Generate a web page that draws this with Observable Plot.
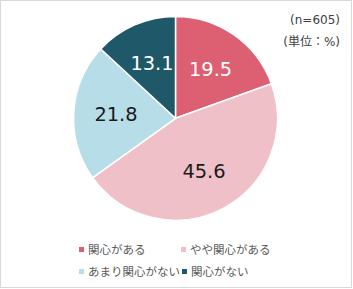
<!DOCTYPE html>
<html><head><meta charset="utf-8">
<script src="https://cdn.jsdelivr.net/npm/d3@7"></script>
<script src="https://cdn.jsdelivr.net/npm/@observablehq/plot@0.6"></script>
<style>
body{margin:0;background:#fff;}
#wrap{position:relative;width:350px;height:286px;border:1px solid #d9d9d9;overflow:hidden;font-family:"DejaVu Sans","Noto Sans CJK JP",sans-serif;}
#chart{position:absolute;left:-1px;top:-1px;}
.note{position:absolute;right:11px;font-size:12px;color:#404040;line-height:14px;white-space:nowrap;}
.leg{position:absolute;font-size:11.5px;color:#595959;display:flex;align-items:center;white-space:nowrap;line-height:16px;font-family:"Noto Sans CJK JP",sans-serif;}
.sw{width:5px;height:5px;margin-right:4px;flex:none;}
</style></head><body>
<div id="wrap"><div id="chart"></div></div>
<script>
const categories = ["関心がある","やや関心がある","あまり関心がない","関心がない"];
const values = [19.5, 45.6, 21.8, 13.1];
const colors = ["#dc5f72","#f0c0c8","#b6dde8","#1f5869"];
const labelColors = ["#ffffff","#1a1a1a","#1a1a1a","#ffffff"];
const noteLines = ["(n=605)","(単位：%)"];

const data = categories.map((c, i) => ({category: c, value: values[i], labelColor: labelColors[i]}));
const color = d3.scaleOrdinal(categories, colors);
const arcs = d3.pie().sort(null).value(d => d.value)(data);
const labelR = 0.59;
const mid = a => (a.startAngle + a.endAngle) / 2;

function pieMark(index, scales) {
  const x0 = scales.x(0), y0 = scales.y(0), R = scales.x(1) - x0;
  const g = d3.create("svg:g").attr("transform", `translate(${x0},${y0})`);
  g.selectAll("path").data(arcs).join("path")
    .attr("d", d3.arc().innerRadius(0).outerRadius(R))
    .attr("fill", d => color(d.data.category))
    .attr("stroke", "#fff")
    .attr("stroke-width", 1.5)
    .attr("stroke-linejoin", "round");
  return g.node();
}

const chart = Plot.plot({
  width: 353,
  height: 289,
  marginLeft: 74,
  marginRight: 74,
  marginTop: 16.5,
  marginBottom: 67.5,
  x: {domain: [-1, 1], axis: null},
  y: {domain: [-1, 1], axis: null},
  style: {background: "transparent", overflow: "visible"},
  marks: [
    pieMark,
    Plot.text(arcs, {
      x: a => labelR * Math.sin(mid(a)),
      y: a => labelR * Math.cos(mid(a)),
      text: a => a.data.value.toFixed(1),
      fill: a => a.data.labelColor,
      fontSize: 19.5,
      fontFamily: "DejaVu Sans, Verdana, sans-serif"
    })
  ]
});
document.getElementById("chart").appendChild(chart);

const wrap = document.getElementById("wrap");
noteLines.forEach((t, i) => {
  const d = document.createElement("div");
  d.className = "note";
  d.textContent = t;
  d.style.top = (12 + i * 22) + "px";
  wrap.appendChild(d);
});
const legPos = [[78, 240], [180, 240], [78, 262], [181, 262]];
categories.forEach((c, i) => {
  const d = document.createElement("div");
  d.className = "leg";
  d.style.left = legPos[i][0] + "px";
  d.style.top = legPos[i][1] + "px";
  const s = document.createElement("span");
  s.className = "sw";
  s.style.background = colors[i];
  d.appendChild(s);
  d.appendChild(document.createTextNode(c));
  wrap.appendChild(d);
});
</script>
</body></html>
